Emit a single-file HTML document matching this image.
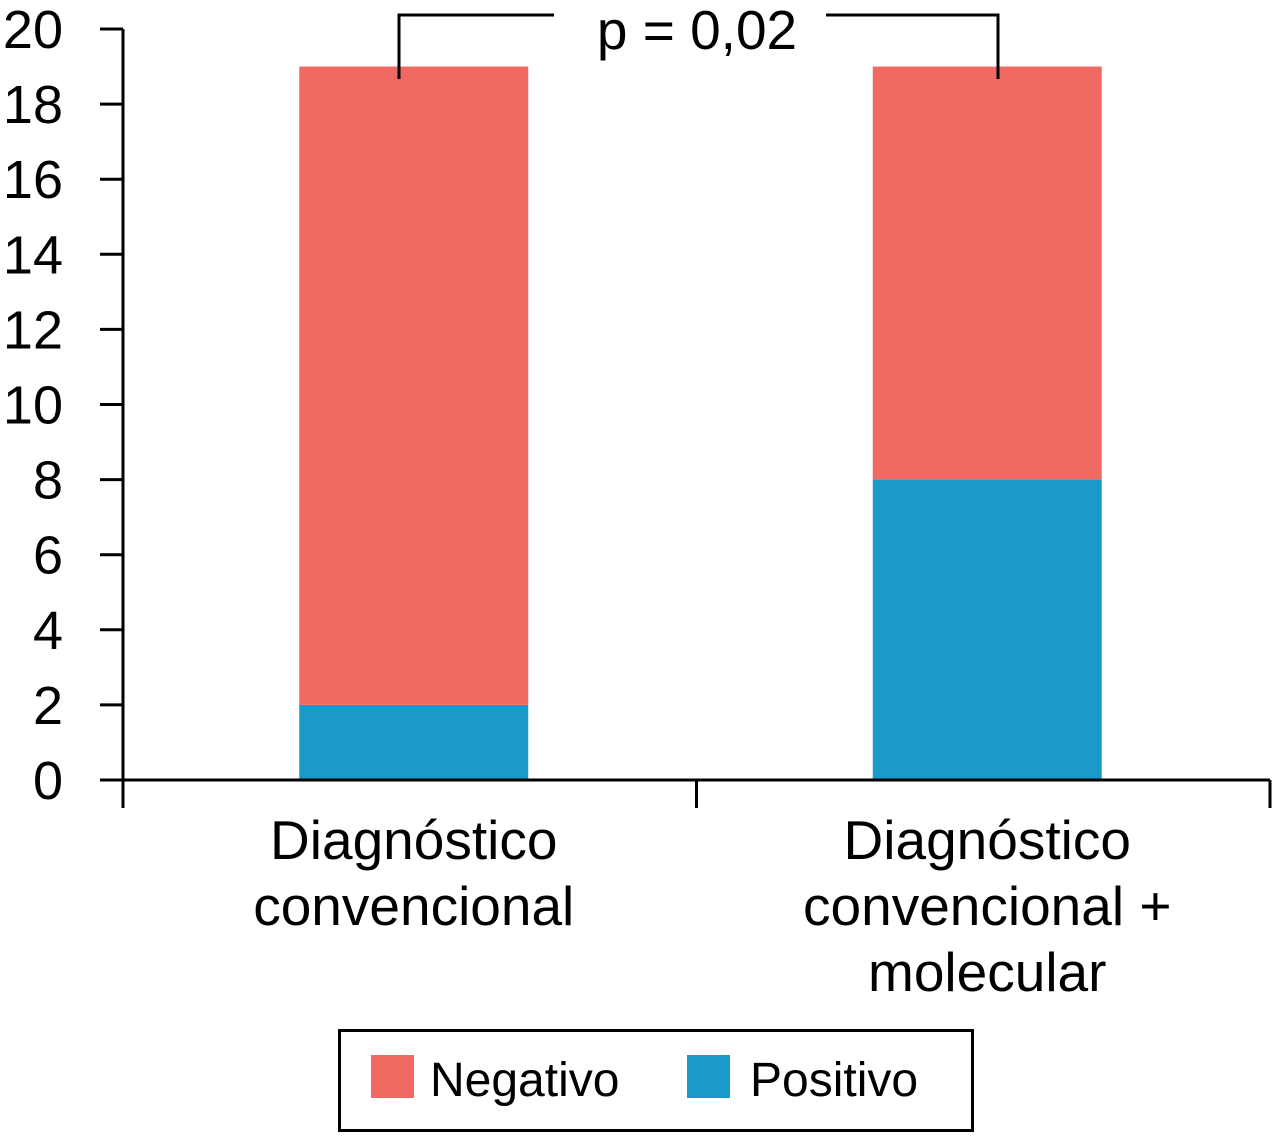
<!DOCTYPE html>
<html><head><meta charset="utf-8"><style>
body{margin:0;background:#fff;}
svg text{font-family:"Liberation Sans",Arial,sans-serif;fill:#000;}
</style></head><body>
<svg width="1272" height="1133" viewBox="0 0 1272 1133" xmlns="http://www.w3.org/2000/svg">
<g id="plot"></g>
<g fill="none" stroke="#000" stroke-width="3">
<polyline points="399,79 399,15 554,15"/>
<polyline points="826,15 998,15 998,79"/>
</g>
<text x="697" y="49" font-size="55" text-anchor="middle">p = 0,02</text>
<g>
<rect x="339.5" y="1030.5" width="633" height="100" fill="none" stroke="#000" stroke-width="3"/>
<rect x="371" y="1055" width="43" height="43" fill="#f06962"/>
<text x="430" y="1096" font-size="48">Negativo</text>
<rect x="687" y="1055" width="43" height="43" fill="#1a9acb"/>
<text x="750" y="1096" font-size="48">Positivo</text>
</g>
</svg>
<script>
const categories=[["Diagnóstico","convencional"],["Diagnóstico","convencional +","molecular"]];
const positivo=[2,8];
const negativo=[17,11];
const yTicks=[0,2,4,6,8,10,12,14,16,18,20];
const NS="http://www.w3.org/2000/svg";
const g=document.getElementById('plot');
const y=v=>780-v*37.55;
const x0=123,x1=1270,band=(x1-x0)/categories.length,barW=229;
const cx=i=>x0+band*(i+0.5)+4;
function mk(t,a){const e=document.createElementNS(NS,t);for(const k in a)e.setAttribute(k,a[k]);g.appendChild(e);return e;}
categories.forEach((c,i)=>{
  const r1=mk('rect',{x:cx(i)-barW/2,y:y(positivo[i]),width:barW,height:y(0)-y(positivo[i]),fill:'#1a9acb'});
  
  
  const t=positivo[i]+negativo[i];
  const r2=mk('rect',{x:cx(i)-barW/2,y:y(t),width:barW,height:y(positivo[i])-y(t),fill:'#f06962'});
  
  
  c.forEach((line,j)=>{
    const tx=mk('text',{x:cx(i),y:859+j*66,'font-size':55,'text-anchor':'middle'});
    tx.textContent=line;
    
    
  });
});
yTicks.forEach(v=>{
  const l=mk('line',{x1:100,x2:123,y1:y(v),y2:y(v),stroke:'#000','stroke-width':3});
  
  
  const t=mk('text',{x:63,y:y(v)+19,'font-size':54,'text-anchor':'end'});
  t.textContent=v;
  
  
});
const ya=mk('line',{x1:123,x2:123,y1:y(20),y2:808,stroke:'#000','stroke-width':3});


const xa=mk('line',{x1:100,x2:1270,y1:780,y2:780,stroke:'#000','stroke-width':3});


for(let i=1;i<=categories.length;i++){
  const l=mk('line',{x1:x0+band*i,x2:x0+band*i,y1:780,y2:808,stroke:'#000','stroke-width':3});
  
  
}
</script>
</body></html>
